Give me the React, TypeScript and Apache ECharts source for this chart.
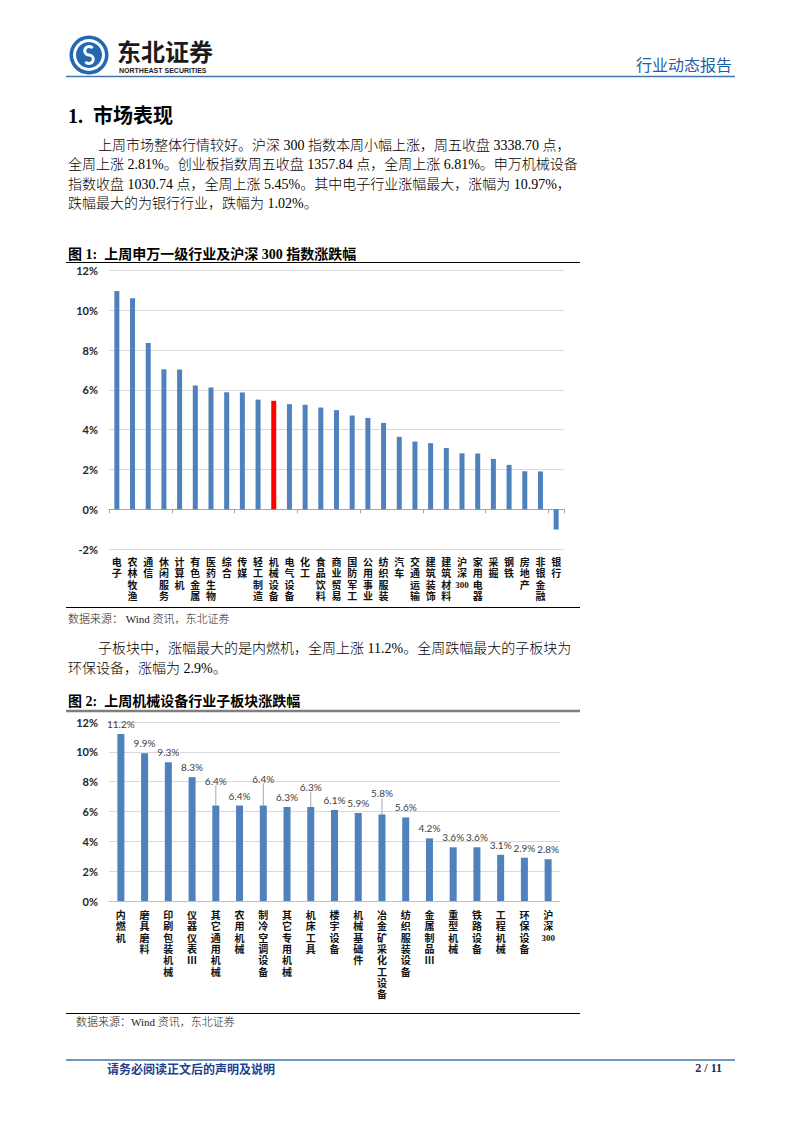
import React, { useEffect, useRef } from 'react';
import * as echarts from 'echarts';

// ---------------- DATA ----------------
const industries = ['电子', '农林牧渔', '通信', '休闲服务', '计算机', '有色金属', '医药生物', '综合', '传媒', '轻工制造', '机械设备', '电气设备', '化工', '食品饮料', '商业贸易', '国防军工', '公用事业', '纺织服装', '汽车', '交通运输', '建筑装饰', '建筑材料', '沪深300', '家用电器', '采掘', '钢铁', '房地产', '非银金融', '银行'];
const industryChange = [10.97, 10.6, 8.36, 7.04, 7.02, 6.22, 6.12, 5.88, 5.87, 5.51, 5.45, 5.28, 5.25, 5.11, 4.98, 4.71, 4.59, 4.34, 3.64, 3.4, 3.32, 3.08, 2.81, 2.8, 2.53, 2.23, 1.91, 1.9, -1.02];
const highlightedIndustry = '机械设备';

const subSectors = ['内燃机', '磨具磨料', '印刷包装机械', '仪器仪表Ⅲ', '其它通用机械', '农用机械', '制冷空调设备', '其它专用机械', '机床工具', '楼宇设备', '机械基础件', '冶金矿采化工设备', '纺织服装设备', '金属制品Ⅲ', '重型机械', '铁路设备', '工程机械', '环保设备', '沪深300'];
const subChange = [11.2, 9.9, 9.3, 8.3, 6.4, 6.4, 6.4, 6.3, 6.3, 6.1, 5.9, 5.8, 5.6, 4.2, 3.6, 3.6, 3.1, 2.9, 2.8];

const yTicks1 = [-2, 0, 2, 4, 6, 8, 10, 12];
const yTicks2 = [0, 2, 4, 6, 8, 10, 12];

const para1 = [
  '上周市场整体行情较好。沪深 300 指数本周小幅上涨，周五收盘 3338.70 点，',
  '全周上涨 2.81%。创业板指数周五收盘 1357.84 点，全周上涨 6.81%。申万机械设备',
  '指数收盘 1030.74 点，全周上涨 5.45%。其中电子行业涨幅最大，涨幅为 10.97%，',
  '跌幅最大的为银行行业，跌幅为 1.02%。',
];
const para2 = [
  '子板块中，涨幅最大的是内燃机，全周上涨 11.2%。全周跌幅最大的子板块为',
  '环保设备，涨幅为 2.9%。',
];

// label offsets (style only) for the lifted data labels in figure 2
const liftedLabels: Record<number, number> = { 4: -15, 6: -17, 8: -10, 11: -11 };

const SERIF = '"Liberation Serif", "Noto Sans CJK SC", serif';
const CJK = '"Noto Sans CJK SC", sans-serif';
const NUM = 'Lato, "Liberation Sans", sans-serif';
const BLUE = '#4F81BD';

function vertical(s: string): string {
  const m = s.match(/^(.*?)(\d+)?$/) as RegExpMatchArray;
  const lines = Array.from(m[1]);
  if (m[2]) lines.push('{d|' + m[2] + '}');
  return lines.join('\n');
}

function txt(text: string, x: number, y: number, o: any = {}) {
  return {
    type: 'text',
    x,
    y,
    silent: true,
    style: {
      text,
      fontSize: 14,
      fontFamily: SERIF,
      fill: '#000',
      textVerticalAlign: 'middle',
      ...o,
    },
  };
}
function hline(x1: number, x2: number, y: number, stroke: string, lineWidth: number) {
  return { type: 'line', silent: true, shape: { x1, y1: y, x2, y2: y }, style: { stroke, lineWidth } };
}

export default function App() {
  const ref = useRef<HTMLDivElement>(null);
  useEffect(() => {
    if (!ref.current) return;
    const chart = echarts.init(ref.current, null, { renderer: 'svg' });

    const logoCx = 89;
    const logoCy = 55;
    const graphic: any[] = [
      // header logo
      { type: 'circle', silent: true, shape: { cx: logoCx, cy: logoCy, r: 19.5 }, style: { fill: '#2468B2' } },
      { type: 'circle', silent: true, shape: { cx: logoCx, cy: logoCy, r: 16 }, style: { fill: '#fff' } },
      { type: 'circle', silent: true, shape: { cx: logoCx, cy: logoCy, r: 13 }, style: { fill: '#2468B2' } },
      { type: 'arc', silent: true, shape: { cx: logoCx, cy: logoCy - 4.3, r: 4.3, startAngle: -Math.PI / 5, endAngle: -1.5 * Math.PI, clockwise: false }, style: { stroke: '#fff', lineWidth: 3, fill: 'none' } },
      { type: 'arc', silent: true, shape: { cx: logoCx, cy: logoCy + 4.3, r: 4.3, startAngle: -Math.PI / 2, endAngle: 0.8 * Math.PI, clockwise: true }, style: { stroke: '#fff', lineWidth: 3, fill: 'none' } },
      txt('东北证券', 117, 50, { fontSize: 24, fontWeight: 'bold', fontFamily: CJK, fill: '#1B1B1B' }),
      txt('NORTHEAST SECURITIES', 119, 70, { fontSize: 7, fontWeight: 'bold', fontFamily: '"Liberation Sans", sans-serif', fill: '#222' }),
      txt('行业动态报告', 732, 64, { fontSize: 16, fontFamily: CJK, fill: '#1F5FA6', textAlign: 'right' }),
      hline(66, 735, 76.5, '#3F74AE', 1.6),
      // section title
      txt('1.  市场表现', 68, 116, { fontSize: 20, fontWeight: 'bold' }),
      // paragraph 1
      ...para1.map((line, i) => txt(line, i === 0 ? 98 : 68, 145 + i * 19.5, { fontSize: 14, fontWeight: 300 })),
      // figure 1 title
      txt('图 1:  上周申万一级行业及沪深 300 指数涨跌幅', 68, 254, { fontSize: 14, fontWeight: 'bold' }),
      hline(66, 580, 262.5, '#000', 1.2),
      hline(66, 580, 607.5, '#000', 1),
      txt('数据来源： Wind 资讯，东北证券', 68, 619, { fontSize: 11, fill: '#222', fontWeight: 300 }),
      // paragraph 2
      ...para2.map((line, i) => txt(line, i === 0 ? 98 : 68, 648 + i * 20, { fontSize: 14, fontWeight: 300 })),
      // figure 2 title
      txt('图 2:  上周机械设备行业子板块涨跌幅', 68, 701, { fontSize: 14, fontWeight: 'bold' }),
      hline(66, 580, 711, '#7F7F7F', 2.5),
      hline(66, 580, 1013.5, '#000', 1),
      txt('数据来源：Wind 资讯，东北证券', 76, 1022, { fontSize: 11, fill: '#222', fontWeight: 300 }),
      // footer
      hline(66, 735, 1060, '#3F74AE', 1.6),
      txt('请务必阅读正文后的声明及说明', 107, 1068, { fontSize: 12, fontWeight: 'bold', fontFamily: CJK, fill: '#1F3F8F' }),
      txt('2 / 11', 722, 1068, { fontSize: 12, fontWeight: 'bold', fill: '#1A2A5A', textAlign: 'right' }),
    ];

    const catLabel = {
      interval: 0,
      formatter: vertical,
      fontSize: 10,
      lineHeight: 11.3,
      fontWeight: 'bold',
      color: '#111',
      fontFamily: SERIF,
      rich: { d: { fontSize: 9, lineHeight: 11, fontWeight: 'bold', fontFamily: '"Liberation Serif", serif', color: '#111' } },
    };
    const valLabel = {
      formatter: '{value}%',
      fontSize: 11,
      fontWeight: 'bold',
      color: '#262626',
      margin: 11,
      fontFamily: NUM,
    };

    const option: any = {
      animation: false,
      backgroundColor: '#fff',
      grid: [
        { left: 109, top: 270.5, width: 455, height: 278.5, outerBoundsMode: 'none' },
        { left: 109, top: 722, width: 451, height: 179, outerBoundsMode: 'none' },
      ],
      xAxis: [
        {
          type: 'category', gridIndex: 0, data: industries, position: 'bottom',
          axisLine: { show: false, onZero: false }, axisTick: { show: false },
          axisLabel: { ...catLabel, margin: 8 }, splitLine: { show: false },
        },
        {
          type: 'category', gridIndex: 0, data: industries, position: 'bottom',
          axisLine: { show: true, onZero: true, lineStyle: { color: '#A6A6A6', width: 1 } },
          axisTick: { show: true, length: 4, lineStyle: { color: '#A6A6A6' } },
          axisLabel: { show: false }, splitLine: { show: false },
        },
        {
          type: 'category', gridIndex: 1, data: subSectors, position: 'bottom',
          axisLine: { show: true, lineStyle: { color: '#BFBFBF', width: 1 } },
          axisTick: { show: false },
          axisLabel: { ...catLabel, margin: 9 }, splitLine: { show: false },
        },
      ],
      yAxis: [
        {
          type: 'value', gridIndex: 0, min: yTicks1[0], max: yTicks1[yTicks1.length - 1], interval: yTicks1[1] - yTicks1[0],
          axisLabel: valLabel, axisLine: { show: false }, axisTick: { show: false },
          splitLine: { show: true, lineStyle: { color: '#D9D9D9', width: 1 } },
        },
        {
          type: 'value', gridIndex: 1, min: yTicks2[0], max: yTicks2[yTicks2.length - 1], interval: yTicks2[1] - yTicks2[0],
          axisLabel: valLabel, axisLine: { show: false }, axisTick: { show: false },
          splitLine: { show: true, lineStyle: { color: '#D9D9D9', width: 1 } },
        },
      ],
      series: [
        {
          type: 'bar', xAxisIndex: 0, yAxisIndex: 0, barWidth: 5,
          itemStyle: { color: BLUE },
          data: industryChange.map((v, i) =>
            industries[i] === highlightedIndustry ? { value: v, itemStyle: { color: '#FF0000' } } : v
          ),
        },
        {
          type: 'bar', xAxisIndex: 2, yAxisIndex: 1, barWidth: 7,
          itemStyle: { color: BLUE },
          label: {
            show: true, position: 'top', distance: 5,
            formatter: (p: any) => Number(p.value).toFixed(1) + '%',
            fontSize: 10, color: '#404040', fontFamily: NUM,
          },
          labelLine: { show: false, lineStyle: { color: '#A6A6A6', width: 1 } },
          labelLayout: (p: any) => (liftedLabels[p.dataIndex] ? { dy: liftedLabels[p.dataIndex] } : undefined),
          data: subChange.map((v, i) => (liftedLabels[i] ? { value: v, labelLine: { show: true } } : v)),
        },
      ],
      graphic,
    };
    chart.setOption(option);
    return () => chart.dispose();
  }, []);

  return (
    <div
      ref={ref}
      style={{ position: 'absolute', left: 0, top: 0, width: 802, height: 1133, background: '#fff' }}
    />
  );
}
